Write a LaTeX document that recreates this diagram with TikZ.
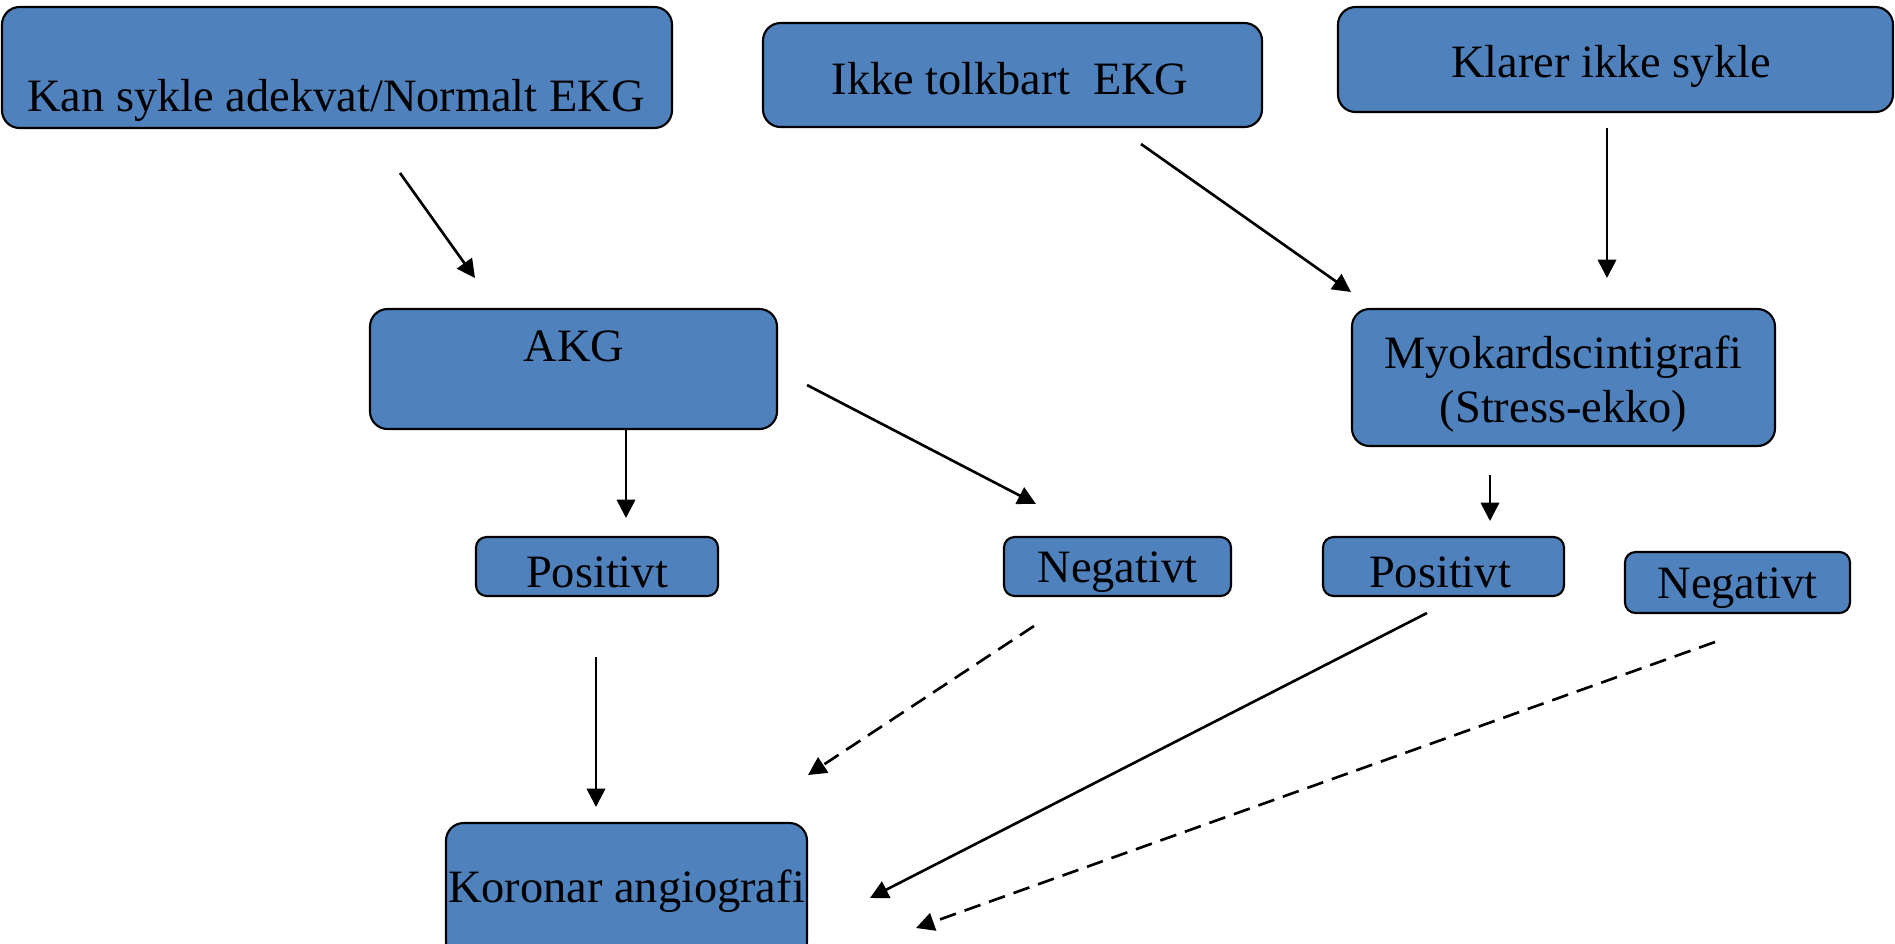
\documentclass[tikz,border=0pt]{standalone}
\usepackage{fontspec}
\setmainfont{Liberation Serif}
\usetikzlibrary{arrows.meta}
\definecolor{boxblue}{RGB}{79,129,189}
\begin{document}
\begin{tikzpicture}[
	boks/.style={draw=black,line width=0.6pt,fill=boxblue,rounded corners=5pt,inner sep=0pt},
	liten/.style={boks,rounded corners=3pt},
	tekst/.style={font=\fontsize{13.2}{15.5}\selectfont,inner sep=0pt,align=center},
	pil/.style={line width=0.75pt,-{Triangle[width=5.2pt,length=5.2pt]}},
	stiplet/.style={pil,dash pattern=on 4.8pt off 2.6pt}]
	\useasboundingbox (0,0) rectangle (18.95,-9.43);
	% boksene
	\node[boks,minimum width=6.70cm,minimum height=1.21cm] (kan) at (3.37,-0.675) {};
	\node[tekst] (kant) at (3.36,-1.00) {Kan sykle adekvat/Normalt EKG};
	\node[boks,minimum width=4.99cm,minimum height=1.04cm] (ikke) at (10.125,-0.75) {};
	\node[tekst] (ikket) at (10.10,-0.79) {Ikke tolkbart\ \ EKG};
	\node[boks,minimum width=5.55cm,minimum height=1.05cm] (klarer) at (16.155,-0.595) {};
	\node[tekst] (klarert) at (16.11,-0.66) {Klarer ikke sykle};
	\node[boks,minimum width=4.07cm,minimum height=1.20cm] (akg) at (5.735,-3.69) {};
	\node[tekst] (akgt) at (5.74,-3.46) {AKG};
	\node[boks,minimum width=4.23cm,minimum height=1.37cm] (myo) at (15.635,-3.775) {};
	\node[tekst] (myot) at (15.635,-3.84) {Myokardscintigrafi\\(Stress-ekko)};
	\node[liten,minimum width=2.42cm,minimum height=0.59cm] (posA) at (5.97,-5.665) {};
	\node[tekst] at (5.97,-5.72) {Positivt};
	\node[liten,minimum width=2.27cm,minimum height=0.59cm] (negA) at (11.175,-5.665) {};
	\node[tekst] at (11.175,-5.72) {Negativt};
	\node[liten,minimum width=2.41cm,minimum height=0.59cm] (posM) at (14.435,-5.665) {};
	\node[tekst] at (14.40,-5.72) {Positivt};
	\node[liten,minimum width=2.25cm,minimum height=0.61cm] (negM) at (17.375,-5.825) {};
	\node[tekst] at (17.375,-5.88) {Negativt};
	\node[boks,minimum width=3.61cm,minimum height=1.37cm] (kor) at (6.265,-8.915) {};
	\node[tekst] (kort) at (6.265,-8.91) {Koronar angiografi};
	% endepunkter for pilene
	\coordinate (k1) at (4.00,-1.73);   \coordinate (k2) at (4.75,-2.78);
	\coordinate (i1) at (11.41,-1.44);  \coordinate (i2) at (13.51,-2.92);
	\coordinate (s1) at (16.07,-1.28);  \coordinate (s2) at (16.07,-2.78);
	\coordinate (a1) at (6.26,-4.29);   \coordinate (a2) at (6.26,-5.18);
	\coordinate (a3) at (8.07,-3.85);   \coordinate (a4) at (10.36,-5.04);
	\coordinate (m1) at (14.90,-4.75);  \coordinate (m2) at (14.90,-5.21);
	\coordinate (p1) at (5.96,-6.57);   \coordinate (p2) at (5.96,-8.07);
	\coordinate (n1) at (10.34,-6.26);  \coordinate (n2) at (8.08,-7.75);
	\coordinate (q1) at (14.27,-6.13);  \coordinate (q2) at (8.70,-8.98);
	\coordinate (r1) at (17.15,-6.42);  \coordinate (r2) at (9.16,-9.28);
	% pilene
	\draw[pil] (k1)--(k2);
	\draw[pil] (i1)--(i2);
	\draw[pil] (s1)--(s2);
	\draw[pil] (a1)--(a2);
	\draw[pil] (a3)--(a4);
	\draw[pil] (m1)--(m2);
	\draw[pil] (p1)--(p2);
	\draw[stiplet] (n1)--(n2);
	\draw[pil] (q1)--(q2);
	\draw[stiplet] (r1)--(r2);
\end{tikzpicture}
\end{document}
